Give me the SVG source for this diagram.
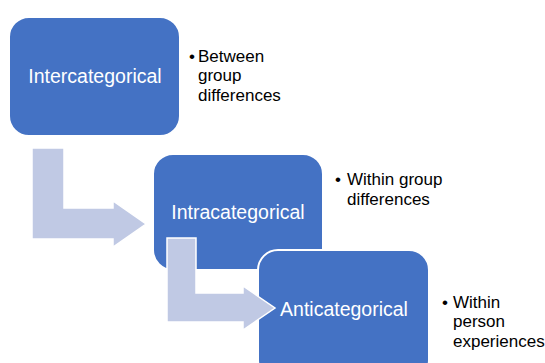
<svg xmlns="http://www.w3.org/2000/svg" width="545" height="363" viewBox="0 0 545 363">
<style>
.box{fill:#4472C4;stroke:#FFFFFF;stroke-width:2}
.arrow{fill:#C0C9E4;stroke:#FFFFFF;stroke-width:1.5}
.lbl{font-family:"Liberation Sans",Arial,sans-serif;font-size:19.5px;fill:#FFFFFF;text-anchor:middle}
.bul{font-family:"Liberation Sans",Arial,sans-serif;font-size:17px;fill:#000000}
</style>
<rect width="545" height="363" fill="#FFFFFF"/>
<g id="node-intercategorical">
<rect class="box" x="9" y="17" width="171" height="119" rx="20" ry="20"/>
<text class="lbl" x="95" y="83">Intercategorical</text>
</g>
<g id="node-intracategorical">
<rect class="box" x="153" y="154" width="170" height="116" rx="20" ry="20"/>
<text class="lbl" x="238" y="219">Intracategorical</text>
</g>
<g id="node-anticategorical">
<rect class="box" x="258" y="250" width="171" height="130" rx="20" ry="20"/>
<text class="lbl" x="344" y="316">Anticategorical</text>
</g>
<g id="connectors">
<path class="arrow" d="M32,148 H64 V208 H113 V201 L146,224 L113,247 V239 H32 Z" stroke="none"/>
<path class="arrow" d="M167,238 H196 V293 H243 V286 L275,308 L243,330 V322 H167 Z"/>
</g>
<g id="note-intercategorical">
<text class="bul" x="189" y="62">•</text>
<text class="bul" x="198" y="62">Between</text>
<text class="bul" x="198" y="81">group</text>
<text class="bul" x="198" y="101">differences</text>
</g>
<g id="note-intracategorical">
<text class="bul" x="335" y="185">•</text>
<text class="bul" x="347" y="185">Within group</text>
<text class="bul" x="347" y="205">differences</text>
</g>
<g id="note-anticategorical">
<text class="bul" x="442" y="308">•</text>
<text class="bul" x="453" y="308">Within</text>
<text class="bul" x="453" y="327">person</text>
<text class="bul" x="453" y="347">experiences</text>
</g>
</svg>
